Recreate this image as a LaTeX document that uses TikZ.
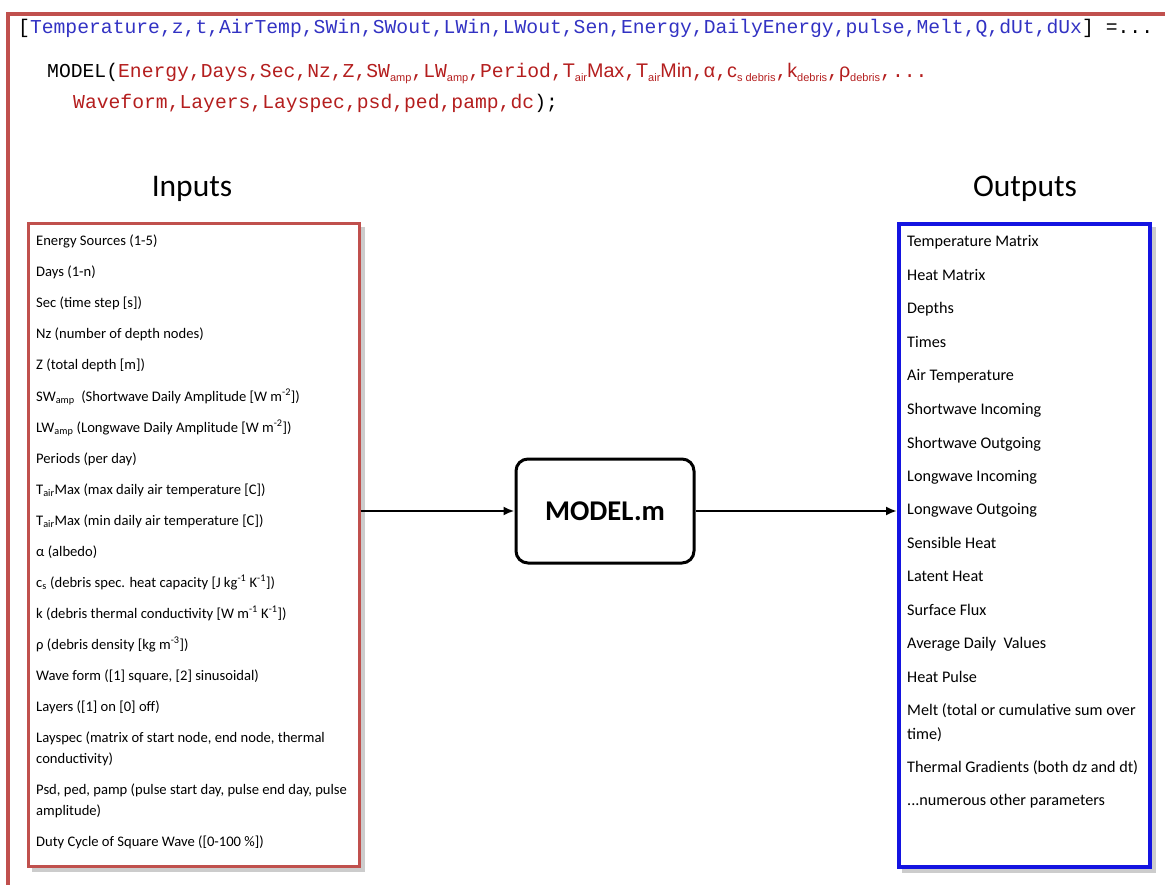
\documentclass[tikz,border=0pt]{standalone}
\usepackage{fontspec}
\setmainfont{Carlito}
\setsansfont{Liberation Sans}
\newfontfamily\codefont{Liberation Mono}
\usepackage{xcolor}
\usepackage{tikz}
\usetikzlibrary{arrows.meta,calc,positioning,backgrounds}
\definecolor{framered}{RGB}{192,80,77}
\definecolor{outblue}{RGB}{20,20,225}
\definecolor{codeblue}{RGB}{50,50,195}
\definecolor{codered}{RGB}{180,30,30}
\newcommand{\codesub}[1]{\raisebox{-0.35ex}{\sffamily\fontsize{11}{11}\selectfont #1}}
\tikzset{
  listbox/.style={draw, line width=3pt, fill=white, minimum height=642pt},
  boxshade/.style={fill=gray!40},
  initem/.style={anchor=base west, inner sep=0pt, font=\fontsize{14.6}{17}\selectfont},
  outitem/.style={anchor=base west, inner sep=0pt, font=\fontsize{16.2}{19}\selectfont},
  codeline/.style={anchor=base west, inner sep=0pt, font=\codefont\fontsize{19.7}{22}\selectfont},
  heading/.style={anchor=base, inner sep=0pt, font=\fontsize{31.5}{36}\selectfont},
  flow/.style={line width=2.8pt, -{Latex[length=11pt,width=9pt]}}
}

\begin{document}
\begin{tikzpicture}[x=1pt,y=-1pt]
        \def\inx{36}
        \def\outx{907}
        \useasboundingbox (0,0) rectangle (1165,885);
        \clip (0,0) rectangle (1165,885);
        %Frame
        \draw[framered, line width=3.5pt] (8,900) -- (8,14) -- (1180,14);
        %Call
        \node[codeline] (call1) at (18,34) {[{\color{codeblue}Temperature,z,t,AirTemp,SWin,SWout,LWin,LWout,Sen,Energy,DailyEnergy,pulse,Melt,Q,dUt,dUx}]\ =...};
        \node[codeline] (call2) at (47,78) {MODEL({\color{codered}Energy,Days,Sec,Nz,Z,SW\codesub{amp},LW\codesub{amp},Period,{\sffamily T\codesub{air}Max},{\sffamily T\codesub{air}Min},{\sffamily α},{\sffamily c\codesub{s debris}},{\sffamily k\codesub{debris}},{\sffamily ρ\codesub{debris}},...}};
        \node[codeline] (call3) at (73,109) {{\color{codered}Waveform,Layers,Layspec,psd,ped,pamp,dc});};
        %Headings
        \node[heading] (inhead) at (192,197) {Inputs};
        \node[heading] (outhead) at (1025,197) {Outputs};
        %Boxes
        \node[listbox, draw=framered, minimum width=331pt] (inbox) at (193.5,545) {};
        \node[listbox, draw=outblue, line width=4pt, minimum width=251pt] (outbox) at (1024.5,545.5) {};
        \node[draw, line width=3pt, rounded corners=12pt, minimum width=178pt, minimum height=104pt,
              font=\bfseries\fontsize{28.6}{32}\selectfont] (model) at (605,511) {MODEL.m};
        %Shade
        \begin{scope}[on background layer]
          \fill[boxshade] ($(inbox.north west)+(5,5)$) rectangle ($(inbox.south east)+(4,4)$);
          \fill[boxshade] ($(outbox.north west)+(5,5)$) rectangle ($(outbox.south east)+(4,4)$);
        \end{scope}
        %Arrows
        \draw[flow] (model.west -| inbox.east) -- (model.west);
        \draw[flow] (model.east) -- (model.east -| outbox.west);
        %Inputs
        \node[initem] (in1) at (\inx,246) {Energy Sources (1-5)};
        \node[initem] (in2) at (\inx,277) {Days (1-n)};
        \node[initem] (in3) at (\inx,308) {Sec (time step [s])};
        \node[initem] (in4) at (\inx,339) {Nz (number of depth nodes)};
        \node[initem] (in5) at (\inx,370) {Z (total depth [m])};
        \node[initem] (in6) at (\inx,401) {SW\textsubscript{amp}\ \ (Shortwave Daily Amplitude [W m\textsuperscript{-2}])};
        \node[initem] (in7) at (\inx,432) {LW\textsubscript{amp} (Longwave Daily Amplitude [W m\textsuperscript{-2}])};
        \node[initem] (in8) at (\inx,463) {Periods (per day)};
        \node[initem] (in9) at (\inx,494) {T\textsubscript{air}Max (max daily air temperature [C])};
        \node[initem] (in10) at (\inx,525) {T\textsubscript{air}Max (min daily air temperature [C])};
        \node[initem] (in11) at (\inx,556) {α (albedo)};
        \node[initem] (in12) at (\inx,587) {c\textsubscript{s} (debris spec. heat capacity [J kg\textsuperscript{-1} K\textsuperscript{-1}])};
        \node[initem] (in13) at (\inx,618) {k (debris thermal conductivity [W m\textsuperscript{-1} K\textsuperscript{-1}])};
        \node[initem] (in14) at (\inx,649) {ρ (debris density [kg m\textsuperscript{-3}])};
        \node[initem] (in15) at (\inx,680) {Wave form ([1] square, [2] sinusoidal)};
        \node[initem] (in16) at (\inx,711) {Layers ([1] on [0] off)};
        \node[initem] (in17) at (\inx,742) {Layspec (matrix of start node, end node, thermal};
        \node[initem] (in17b) at (\inx,763) {conductivity)};
        \node[initem] (in18) at (\inx,794) {Psd, ped, pamp (pulse start day, pulse end day, pulse};
        \node[initem] (in18b) at (\inx,815) {amplitude)};
        \node[initem] (in19) at (\inx,846) {Duty Cycle of Square Wave ([0-100 \%])};
        %Outputs
        \node[outitem] (out1) at (\outx,247) {Temperature Matrix};
        \node[outitem] (out2) at (\outx,280.5) {Heat Matrix};
        \node[outitem] (out3) at (\outx,314) {Depths};
        \node[outitem] (out4) at (\outx,347.5) {Times};
        \node[outitem] (out5) at (\outx,381) {Air Temperature};
        \node[outitem] (out6) at (\outx,414.5) {Shortwave Incoming};
        \node[outitem] (out7) at (\outx,448) {Shortwave Outgoing};
        \node[outitem] (out8) at (\outx,481) {Longwave Incoming};
        \node[outitem] (out9) at (\outx,514.5) {Longwave Outgoing};
        \node[outitem] (out10) at (\outx,548) {Sensible Heat};
        \node[outitem] (out11) at (\outx,581.5) {Latent Heat};
        \node[outitem] (out12) at (\outx,615) {Surface Flux};
        \node[outitem] (out13) at (\outx,648.5) {Average Daily\ \ Values};
        \node[outitem] (out14) at (\outx,682) {Heat Pulse};
        \node[outitem] (out15) at (\outx,715) {Melt (total or cumulative sum over};
        \node[outitem] (out15b) at (\outx,739) {time)};
        \node[outitem] (out16) at (\outx,772) {Thermal Gradients (both dz and dt)};
        \node[outitem] (out17) at (\outx,805) {...numerous other parameters};
\end{tikzpicture}
\end{document}
